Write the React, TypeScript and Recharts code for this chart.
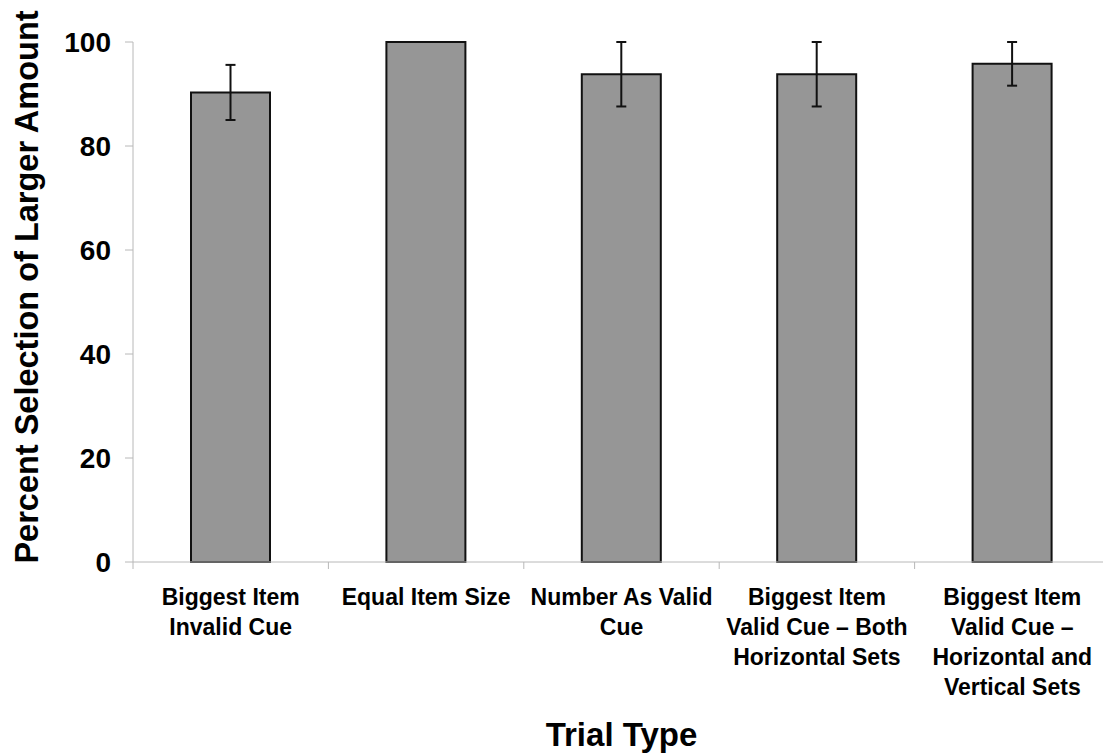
import React from 'react';
import { BarChart, Bar, XAxis, YAxis, ErrorBar } from 'recharts';

const categories = [
  'Biggest Item Invalid Cue',
  'Equal Item Size',
  'Number As Valid Cue',
  'Biggest Item Valid Cue – Both Horizontal Sets',
  'Biggest Item Valid Cue – Horizontal and Vertical Sets',
];

// how each category label wraps under the axis
const categoryLines = [
  ['Biggest Item', 'Invalid Cue'],
  ['Equal Item Size'],
  ['Number As Valid', 'Cue'],
  ['Biggest Item', 'Valid Cue – Both', 'Horizontal Sets'],
  ['Biggest Item', 'Valid Cue –', 'Horizontal and', 'Vertical Sets'],
];

const percentLarger = [90.3, 100, 93.8, 93.8, 95.8];
const errors = [5.3, null, 6.2, 6.2, 4.2];

const yTicks = [0, 20, 40, 60, 80, 100];

const data = categories.map((name, i) => ({
  name,
  value: percentLarger[i],
  err: errors[i],
}));

const FONT = '"Liberation Sans", Arial, sans-serif';
const AXIS_GREY = '#b8b8b8';

// label lines plus the small tick marks on the category boundaries
const CategoryTick = (props: any) => {
  const { x, y, index, width } = props;
  const lines = categoryLines[index] || [];
  const band = width / categories.length;
  const left = x - band / 2;
  const right = x + band / 2;
  return (
    <g>
      <line x1={left} y1={y} x2={left} y2={y + 7} stroke={AXIS_GREY} />
      {index === categories.length - 1 && (
        <line x1={right} y1={y} x2={right} y2={y + 7} stroke={AXIS_GREY} />
      )}
      <text
        x={x}
        y={y}
        textAnchor="middle"
        fontFamily={FONT}
        fontWeight="bold"
        fontSize={23}
        fill="#000"
      >
        {lines.map((line, i) => (
          <tspan key={i} x={x} dy={i === 0 ? 43 : 30}>
            {line}
          </tspan>
        ))}
      </text>
    </g>
  );
};

const XTitle = (props: any) => {
  const vb = props.viewBox || {};
  const cx = vb.x + vb.width / 2;
  return (
    <text
      x={cx}
      y={746}
      textAnchor="middle"
      fontFamily={FONT}
      fontWeight="bold"
      fontSize={33}
      fill="#000"
    >
      Trial Type
    </text>
  );
};

const YTitle = () => (
  <text
    x={38}
    y={287}
    transform="rotate(-90 38 287)"
    textAnchor="middle"
    fontFamily={FONT}
    fontWeight="bold"
    fontSize={32.5}
    fill="#000"
  >
    Percent Selection of Larger Amount
  </text>
);

export default function App() {
  return (
    <div style={{ position: 'absolute', left: 0, top: 0, background: '#fff' }}>
      <BarChart
        width={1110}
        height={753}
        data={data}
        margin={{ top: 42, right: 0, left: 0, bottom: 0 }}
      >
        <XAxis
          dataKey="name"
          height={191}
          interval={0}
          tickLine={false}
          tickSize={0}
          tickMargin={0}
          axisLine={{ stroke: AXIS_GREY }}
          tick={<CategoryTick />}
          label={<XTitle />}
        />
        <YAxis
          width={133}
          domain={[0, 100]}
          ticks={yTicks}
          tickSize={8}
          tickMargin={14}
          axisLine={{ stroke: AXIS_GREY }}
          tickLine={{ stroke: AXIS_GREY }}
          tick={{ fontFamily: FONT, fontWeight: 'bold', fontSize: 28, fill: '#000' }}
          label={<YTitle />}
        />
        <Bar
          dataKey="value"
          fill="#969696"
          stroke="#111"
          strokeWidth={2}
          barSize={79}
          isAnimationActive={false}
        >
          <ErrorBar dataKey="err" width={5} stroke="#111" strokeWidth={2} />
        </Bar>
      </BarChart>
    </div>
  );
}
